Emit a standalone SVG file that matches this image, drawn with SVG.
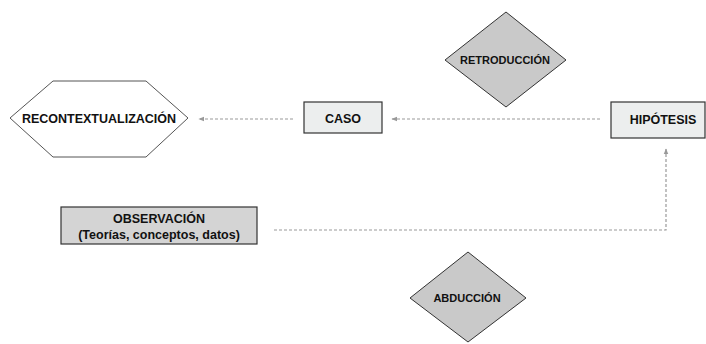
<svg xmlns="http://www.w3.org/2000/svg" width="706" height="344" viewBox="0 0 706 344">
<defs>
<style>
text{font-family:"Liberation Sans",Arial,sans-serif;font-weight:bold;fill:#111;text-anchor:middle}
.lbl{font-size:12.5px}
.sm{font-size:11px}
.box{fill:#eceeee;stroke:#333;stroke-width:1.2}
.gbox{fill:#d4d4d4;stroke:#333;stroke-width:1.2}
.dia{fill:#c9c9c9;stroke:#333;stroke-width:1}
.hex{fill:#fff;stroke:#555;stroke-width:1}
.conn{fill:none;stroke:#999;stroke-width:1.2;stroke-dasharray:3 2}
</style>
<marker id="ah" viewBox="0 0 10 10" refX="9" refY="5" markerWidth="6" markerHeight="6" orient="auto" markerUnits="userSpaceOnUse">
<path d="M0,1 L10,5 L0,9 Z" fill="#999"/>
</marker>
</defs>
<rect width="706" height="344" fill="#fff"/>
<g id="connectors">
<line class="conn" x1="600" y1="119" x2="392" y2="119" marker-end="url(#ah)"/>
<line class="conn" x1="293" y1="119" x2="199" y2="119" marker-end="url(#ah)"/>
<polyline class="conn" points="274,230 666,230 666,149" marker-end="url(#ah)"/>
</g>
<g id="recontextualizacion">
<polygon class="hex" points="10,118 53,81 146,81 188,118 146,157 53,157"/>
<text class="lbl" x="99" y="122.5">RECONTEXTUALIZACIÓN</text>
</g>
<g id="caso">
<rect class="box" x="304" y="102" width="78" height="31"/>
<text class="lbl" x="343" y="122.5">CASO</text>
</g>
<g id="hipotesis">
<rect class="box" x="611" y="102" width="94" height="36"/>
<text class="lbl" x="663" y="123.5">HIPÓTESIS</text>
</g>
<g id="retroduccion">
<polygon class="dia" points="506,12 566,60 506,107 445,60"/>
<text class="sm" x="505" y="64">RETRODUCCIÓN</text>
</g>
<g id="observacion">
<rect class="gbox" x="61" y="207" width="196" height="37"/>
<text class="lbl" x="159" y="223">OBSERVACIÓN</text>
<text class="lbl" x="159" y="238.5">(Teorías, conceptos, datos)</text>
</g>
<g id="abduccion">
<polygon class="dia" points="468,252 526,298 468,342 410,298"/>
<text class="sm" x="467" y="302">ABDUCCIÓN</text>
</g>
</svg>
